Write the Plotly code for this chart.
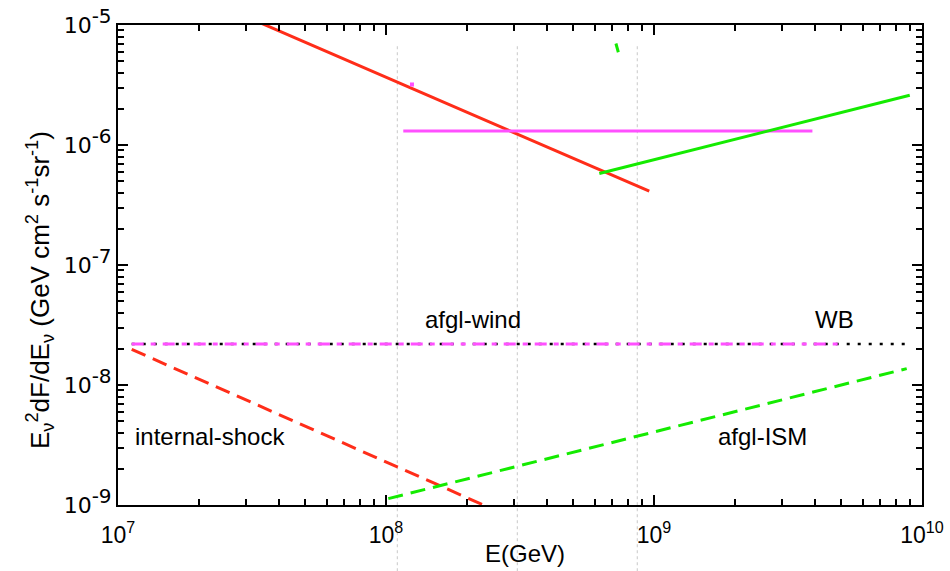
import math
import plotly.graph_objects as go

# ---- data ----
red_solid_E = [1.0e7, 9.6e8]
red_solid_F = [3.4e-5, 4.12e-7]

mag_solid_E = [1.16e8, 3.9e9]
mag_solid_F = [1.31e-6, 1.31e-6]

mag_tick_E = [1.25e8, 1.25e8]
mag_tick_F = [3.32e-6, 3.07e-6]

green_solid_E = [6.25e8, 9.0e9]
green_solid_F = [5.79e-7, 2.6e-6]

green_tick_E = [7.21e8, 7.36e8]
green_tick_F = [7.01e-6, 5.93e-6]

wb_E = [1.125e7, 9.0e9]
wb_F = [2.2e-8, 2.2e-8]

wind_E = [1.125e7, 4.87e9]
wind_F = [2.2e-8, 2.2e-8]

is_E = [1.125e7, 1.0e9]
is_F = [1.98e-8, 2.35e-10]

ism_E = [1.02e8, 8.77e9]
ism_F = [1.13e-9, 1.37e-8]

grid_E = [1.102e8, 3.09e8, 8.66e8]

labels = ["afgl-wind", "WB", "internal-shock", "afgl-ISM"]
label_E = [2.11e8, 4.73e9, 2.2e7, 2.55e9]
label_F = [3.52e-8, 3.52e-8, 3.72e-9, 3.72e-9]

x_tickvals = [1e7, 1e8, 1e9, 1e10]
x_exps = ["7", "8", "9", "10"]
y_tickvals = [1e-9, 1e-8, 1e-7, 1e-6, 1e-5]
y_exps = ["-9", "-8", "-7", "-6", "-5"]

x_title = "E(GeV)"
y_title = ("E<sub>ν</sub><sup>2</sup>dF/dE<sub>ν</sub> (GeV cm<sup>2</sup> "
           "s<sup>-1</sup>sr<sup>-1</sup>)")

RED = "rgb(255,45,25)"
GREEN = "rgb(20,235,0)"
MAG = "rgb(255,80,255)"
FONT = "Liberation Sans, Arial, sans-serif"

fig = go.Figure()

def add(x, y, color, dash="solid", width=3):
    fig.add_trace(go.Scatter(x=x, y=y, mode="lines",
                             line=dict(color=color, dash=dash, width=width),
                             showlegend=False, hoverinfo="skip"))

add(wb_E, wb_F, "black", dash="3px,8px", width=2.5)
add(wind_E, wind_F, MAG, dash="12px,7px,5px,7px", width=3)
add(is_E, is_F, RED, dash="15px,8px", width=3)
add(ism_E, ism_F, GREEN, dash="15px,8px", width=3)
add(red_solid_E, red_solid_F, RED)
add(mag_solid_E, mag_solid_F, MAG)
add(mag_tick_E, mag_tick_F, MAG, width=4)
add(green_solid_E, green_solid_F, GREEN)
add(green_tick_E, green_tick_F, GREEN)

for g in grid_E:
    fig.add_shape(type="line", xref="x", yref="paper", x0=g, x1=g,
                  y0=-0.138, y1=0.959, layer="below",
                  line=dict(color="rgb(200,200,200)", width=1, dash="dot"))

for t, xe, yf in zip(labels, label_E, label_F):
    fig.add_annotation(x=math.log10(xe), y=math.log10(yf), text=t,
                       showarrow=False, xanchor="center", yanchor="middle",
                       font=dict(size=24, color="black", family=FONT))

# axis titles as annotations for exact placement
fig.add_annotation(xref="paper", yref="paper", x=0.506, y=-0.1,
                   text=x_title, showarrow=False, xanchor="center",
                   yanchor="middle", font=dict(size=24, color="black", family=FONT))
fig.add_annotation(xref="paper", yref="paper", x=-0.097, y=0.448,
                   text=y_title, textangle=-90, showarrow=False,
                   xanchor="center", yanchor="middle",
                   font=dict(size=26, color="black", family=FONT))

axis_common = dict(
    type="log", showgrid=False, zeroline=False, automargin=False,
    showline=True, linecolor="black", linewidth=2, mirror="allticks",
    ticks="inside", ticklen=10, tickwidth=2, tickcolor="black",
    minor=dict(ticks="inside", ticklen=6, tickwidth=1.5, tickcolor="black",
               dtick="D1", showgrid=False),
)

fig.update_xaxes(range=[7, 10], tickmode="array", tickvals=x_tickvals,
                 ticktext=["10<sup>%s</sup>" % e for e in x_exps],
                 tickfont=dict(size=23, color="black", family=FONT),
                 ticklabelstandoff=8,
                 **axis_common)
fig.update_yaxes(range=[-9, -5], tickmode="array", tickvals=y_tickvals,
                 ticktext=["10<sup><span style='font-size:20px'>%s</span></sup>" % e
                           for e in y_exps],
                 tickfont=dict(size=22, color="black", family="DejaVu Sans"),
                 **axis_common)

fig.update_layout(
    width=950, height=571,
    margin=dict(l=118, r=28, t=25, b=66),
    paper_bgcolor="white", plot_bgcolor="white",
    font=dict(family=FONT, color="black"),
)

fig.write_html("out.html")
